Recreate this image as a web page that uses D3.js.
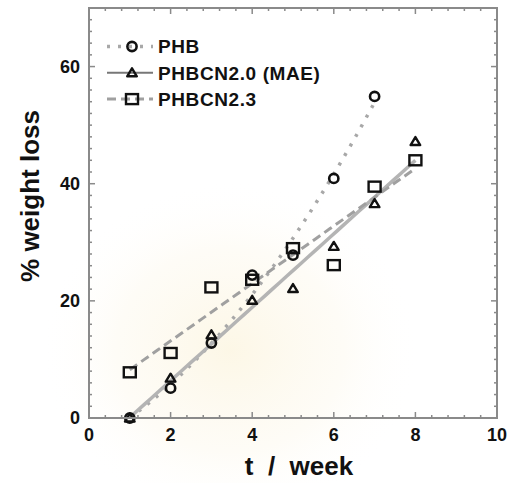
<!DOCTYPE html>
<html>
<head>
<meta charset="utf-8">
<script src="https://cdn.jsdelivr.net/npm/d3@7"></script>
<style>
  body { margin: 0; background: #fff; }
  svg { display: block; }
</style>
</head>
<body>
<script>
// data
const weeks = [1, 2, 3, 4, 5, 6, 7, 8];
const phb = [0, 5.1, 12.8, 24.4, 27.8, 40.9, 54.9];          // weeks 1..7
const phbcn20 = [0, 6.8, 14.2, 20.1, 22.1, 29.3, 36.6, 47.2];
const phbcn23 = [7.8, 11.1, 22.3, 23.6, 29.0, 26.1, 39.5, 44.0];
const seriesNames = ["PHB", "PHBCN2.0 (MAE)", "PHBCN2.3"];
const xTicks = [0, 2, 4, 6, 8, 10];
const yTicks = [0, 20, 40, 60];

const width = 508, height = 483;
const plotLeft = 89, plotRight = 497, plotTop = 8, plotBottom = 418;

const svg = d3.select("body").append("svg")
  .attr("width", width).attr("height", height)
  .attr("font-family", "'Liberation Sans', Arial, sans-serif")
  .attr("font-weight", "bold");

// faint watermark glow behind the plot
const defs = svg.append("defs");
const grad = defs.append("radialGradient").attr("id", "wm");
grad.append("stop").attr("offset", "0%").attr("stop-color", "#fcf5e0").attr("stop-opacity", 0.8);
grad.append("stop").attr("offset", "60%").attr("stop-color", "#fdf9ee").attr("stop-opacity", 0.5);
grad.append("stop").attr("offset", "100%").attr("stop-color", "#fff").attr("stop-opacity", 0);
svg.append("ellipse").attr("cx", 230).attr("cy", 350).attr("rx", 190).attr("ry", 170)
  .attr("fill", "url(#wm)");

const x = d3.scaleLinear().domain([0, 10]).range([plotLeft, plotRight]);
const y = d3.scaleLinear().domain([0, 70]).range([plotBottom, plotTop]);

// least squares polynomial fit
function polyfit(xs, ys, deg) {
  const n = deg + 1;
  const A = Array.from({ length: n }, () => new Array(n + 1).fill(0));
  xs.forEach((xv, k) => {
    for (let i = 0; i < n; i++) {
      for (let j = 0; j < n; j++) A[i][j] += Math.pow(xv, i + j);
      A[i][n] += ys[k] * Math.pow(xv, i);
    }
  });
  for (let i = 0; i < n; i++) {
    for (let r = i + 1; r < n; r++) {
      const f = A[r][i] / A[i][i];
      for (let c = i; c <= n; c++) A[r][c] -= f * A[i][c];
    }
  }
  const coef = new Array(n).fill(0);
  for (let i = n - 1; i >= 0; i--) {
    let s = A[i][n];
    for (let j = i + 1; j < n; j++) s -= A[i][j] * coef[j];
    coef[i] = s / A[i][i];
  }
  return (t) => coef.reduce((acc, c, i) => acc + c * Math.pow(t, i), 0);
}

const series = [
  { name: seriesNames[0], t: weeks.slice(0, phb.length), v: phb, deg: 2,
    marker: "circle", stroke: "#a8a8a8", width: 3.5, dash: "3,8" },
  { name: seriesNames[1], t: weeks, v: phbcn20, deg: 1,
    marker: "triangle", stroke: "#b4b4b4", width: 3.5, dash: null },
  { name: seriesNames[2], t: weeks, v: phbcn23, deg: 1,
    marker: "square", stroke: "#a0a0a0", width: 3, dash: "9,5" }
];

// fit lines
const line = d3.line().x(d => x(d[0])).y(d => y(d[1]));
series.forEach(s => {
  const f = polyfit(s.t, s.v, s.deg);
  const t0 = d3.min(s.t), t1 = d3.max(s.t);
  const pts = d3.range(0, 41).map(i => {
    const t = t0 + (t1 - t0) * i / 40;
    return [t, f(t)];
  });
  svg.append("path").attr("d", line(pts))
    .attr("fill", "none").attr("stroke", s.stroke)
    .attr("stroke-width", s.width).attr("stroke-dasharray", s.dash);
});

function drawMarker(g, type, cx, cy) {
  if (type === "circle") {
    g.append("circle").attr("cx", cx).attr("cy", cy).attr("r", 4.6)
      .attr("fill", "none").attr("stroke", "#111").attr("stroke-width", 2.6);
  } else if (type === "triangle") {
    g.append("path")
      .attr("d", `M${cx},${cy - 4.5}L${cx + 4.8},${cy + 3.5}L${cx - 4.8},${cy + 3.5}Z`)
      .attr("fill", "none").attr("stroke", "#111").attr("stroke-width", 2.4)
      .attr("stroke-linejoin", "round");
  } else {
    g.append("rect").attr("x", cx - 6).attr("y", cy - 5).attr("width", 12).attr("height", 10)
      .attr("fill", "none").attr("stroke", "#111").attr("stroke-width", 2.4);
  }
}

// markers
const marks = svg.append("g");
series.forEach(s => {
  s.t.forEach((t, i) => drawMarker(marks, s.marker, x(t), y(s.v[i])));
});

// frame and ticks
const axisColor = "#8a8a8a";
svg.append("rect").attr("x", plotLeft).attr("y", plotTop)
  .attr("width", plotRight - plotLeft).attr("height", plotBottom - plotTop)
  .attr("fill", "none").attr("stroke", axisColor).attr("stroke-width", 2);

const xMinor = d3.range(0, 10.001, 0.4).filter(v => !xTicks.some(t => Math.abs(t - v) < 1e-6));
const yMinor = d3.range(0, 70.001, 2).filter(v => v % 20 !== 0);
const ticks = svg.append("g").attr("stroke", axisColor).attr("stroke-width", 1.5);
xTicks.forEach(v => {
  ticks.append("line").attr("x1", x(v)).attr("x2", x(v)).attr("y1", plotBottom).attr("y2", plotBottom - 6);
  ticks.append("line").attr("x1", x(v)).attr("x2", x(v)).attr("y1", plotTop).attr("y2", plotTop + 6);
});
xMinor.forEach(v => {
  ticks.append("line").attr("x1", x(v)).attr("x2", x(v)).attr("y1", plotBottom).attr("y2", plotBottom - 3);
  ticks.append("line").attr("x1", x(v)).attr("x2", x(v)).attr("y1", plotTop).attr("y2", plotTop + 3);
});
yTicks.forEach(v => {
  ticks.append("line").attr("x1", plotLeft).attr("x2", plotLeft + 6).attr("y1", y(v)).attr("y2", y(v));
  ticks.append("line").attr("x1", plotRight).attr("x2", plotRight - 6).attr("y1", y(v)).attr("y2", y(v));
});
yMinor.forEach(v => {
  ticks.append("line").attr("x1", plotLeft).attr("x2", plotLeft + 3).attr("y1", y(v)).attr("y2", y(v));
  ticks.append("line").attr("x1", plotRight).attr("x2", plotRight - 3).attr("y1", y(v)).attr("y2", y(v));
});

// tick labels
svg.append("g").selectAll("text").data(xTicks).join("text")
  .attr("x", d => x(d)).attr("y", 441)
  .attr("text-anchor", "middle").attr("font-size", 18).attr("fill", "#111")
  .text(d => d);
svg.append("g").selectAll("text").data(yTicks).join("text")
  .attr("x", 80).attr("y", d => y(d)).attr("dy", "0.36em")
  .attr("text-anchor", "end").attr("font-size", 18).attr("fill", "#111")
  .text(d => d);

// axis titles
svg.append("text").attr("x", 299).attr("y", 475)
  .attr("text-anchor", "middle").attr("font-size", 26).attr("fill", "#111")
  .style("white-space", "pre")
  .text("t  /  week");
svg.append("text").attr("transform", "translate(39,196) rotate(-90)")
  .attr("text-anchor", "middle").attr("font-size", 26).attr("fill", "#111")
  .text("% weight loss");

// legend
const legend = svg.append("g");
series.forEach((s, i) => {
  const cy = 46.5 + i * 26.3;
  legend.append("line").attr("x1", 107).attr("x2", 153).attr("y1", cy).attr("y2", cy)
    .attr("stroke", i === 1 ? "#777" : s.stroke).attr("stroke-width", i === 1 ? 2 : s.width)
    .attr("stroke-dasharray", s.dash);
  drawMarker(legend, s.marker, 132, cy);
  legend.append("text").attr("x", 158).attr("y", cy).attr("dy", "0.36em")
    .attr("font-size", 19).attr("letter-spacing", 0.6).attr("fill", "#111")
    .text(s.name);
});
</script>
</body>
</html>
